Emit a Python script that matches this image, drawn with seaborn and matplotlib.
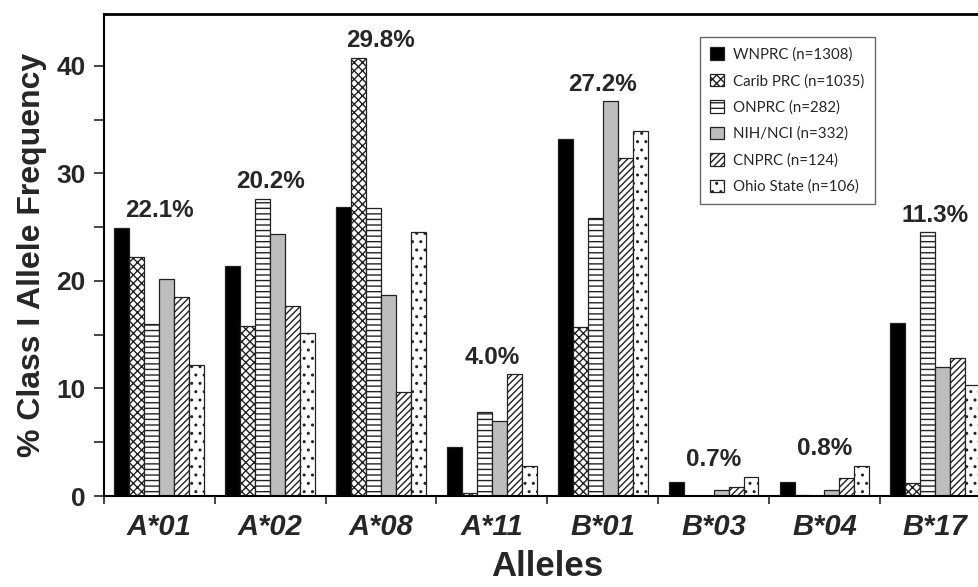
import numpy as np
import pandas as pd
import matplotlib
matplotlib.use("Agg")
import matplotlib.pyplot as plt
import seaborn as sns
from matplotlib.ticker import MultipleLocator, FixedLocator

alleles = ["A*01", "A*02", "A*08", "A*11", "B*01", "B*03", "B*04", "B*17"]
centers = ["WNPRC (n=1308)", "Carib PRC (n=1035)", "ONPRC (n=282)",
           "NIH/NCI (n=332)", "CNPRC (n=124)", "Ohio State (n=106)"]
wnprc  = [24.9, 21.4, 26.9, 4.6, 33.2, 1.3, 1.3, 16.1]
carib  = [22.2, 15.8, 40.7, 0.3, 15.7, 0.0, 0.1, 1.2]
onprc  = [16.0, 27.6, 26.8, 7.8, 25.8, 0.0, 0.0, 24.5]
nih    = [20.2, 24.4, 18.7, 7.0, 36.7, 0.6, 0.6, 12.0]
cnprc  = [18.5, 17.7, 9.7, 11.3, 31.4, 0.8, 1.7, 12.8]
ohio   = [12.2, 15.2, 24.5, 2.8, 33.9, 1.8, 2.8, 10.3]
overall = ["22.1%", "20.2%", "29.8%", "4.0%", "27.2%", "0.7%", "0.8%", "11.3%"]

series = [wnprc, carib, onprc, nih, cnprc, ohio]
df = pd.DataFrame({
    "Allele": np.tile(alleles, len(centers)),
    "Center": np.repeat(centers, len(alleles)),
    "Freq": np.concatenate(series),
})

sns.set_style("white")
plt.rcParams["font.family"] = ["Liberation Sans", "DejaVu Sans"]
plt.rcParams["hatch.linewidth"] = 1.0

fig = plt.figure(figsize=(9.79, 5.87), dpi=100)
ax = fig.add_axes([0.106, 0.155, 0.906, 0.821])

sns.barplot(data=df, x="Allele", y="Freq", hue="Center", order=alleles,
            hue_order=centers, palette=["white"] * 6, width=0.81,
            saturation=1, legend=False, ax=ax, errorbar=None)

styles = [
    dict(fc="black", hatch=None),
    dict(fc="white", hatch="xxxx"),
    dict(fc="white", hatch="---"),
    dict(fc="#bdbdbd", hatch=None),
    dict(fc="white", hatch="/////"),
    dict(fc="white", hatch=".."),
]
for cont, st in zip(ax.containers, styles):
    for p in cont.patches:
        p.set_facecolor(st["fc"])
        p.set_edgecolor("#222222")
        p.set_linewidth(0.9)
        if st["hatch"]:
            p.set_hatch(st["hatch"])

for i, lab in enumerate(overall):
    top = max(s[i] for s in series)
    ax.text(i, top + 1.6, lab, ha="center", va="center",
            fontsize=17.5, fontweight="bold")

ax.set_xlim(-0.5, 7.5)
ax.set_ylim(0, 44.8)
ax.yaxis.set_major_locator(MultipleLocator(10))
ax.yaxis.set_minor_locator(MultipleLocator(5))
ax.xaxis.set_minor_locator(FixedLocator(np.arange(-0.5, 8, 1.0)))
ax.tick_params(axis="y", which="both", direction="out", length=7, width=1.2,
               left=True, labelsize=19, pad=6)
ax.tick_params(axis="x", which="major", length=0, labelsize=21, pad=12)
ax.tick_params(axis="x", which="minor", direction="out", length=6, width=1.2,
               bottom=True)
for t in ax.get_yticklabels():
    t.set_fontweight("bold")
for t in ax.get_xticklabels():
    t.set_fontweight("bold")
    t.set_fontstyle("italic")

ax.set_xlabel("Alleles", fontsize=25, fontweight="bold", labelpad=7)
ax.set_ylabel("% Class I Allele Frequency", fontsize=23, fontweight="bold",
              labelpad=7)

for side in ["left", "bottom", "top"]:
    ax.spines[side].set_visible(True)
    ax.spines[side].set_color("black")
    ax.spines[side].set_linewidth(1.5)
ax.spines["top"].set_linewidth(2)
ax.spines["right"].set_visible(False)

leg = ax.legend(ax.containers, centers, loc="upper left",
                bbox_to_anchor=(700 / 979, 1 - 37 / 587),
                bbox_transform=fig.transFigure,
                fontsize=10.8, frameon=True, fancybox=False,
                handlelength=0.9, handleheight=0.9, handletextpad=0.6,
                labelspacing=0.8, borderpad=0.7, borderaxespad=0)
leg.get_frame().set_edgecolor("#666666")
leg.get_frame().set_linewidth(1.0)
leg.get_frame().set_alpha(1)
for t in leg.get_texts():
    t.set_family(["Lato", "DejaVu Sans"])

fig.savefig("out.png", dpi=100)
